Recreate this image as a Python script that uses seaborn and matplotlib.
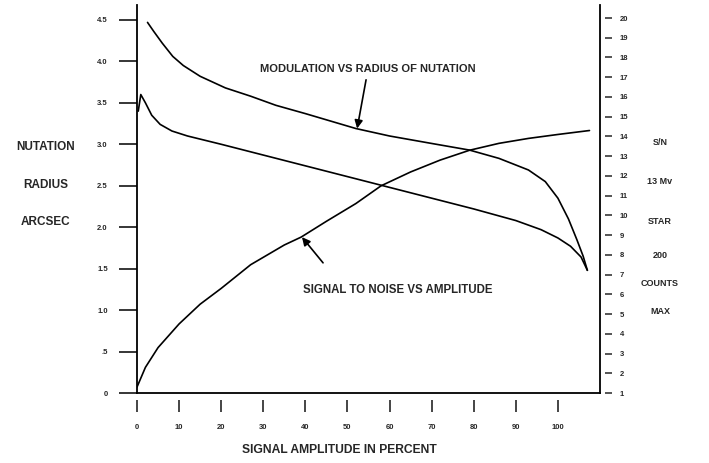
import matplotlib.pyplot as plt
import seaborn as sns

# upper curve (left axis, arcsec)
amp_top = [2.5, 4, 6, 8.5, 11, 15, 21, 27, 33, 40, 46, 52, 60, 70, 79, 86, 93, 97, 100, 102.5, 104.5, 106, 107]
nut_top = [4.47, 4.36, 4.22, 4.06, 3.95, 3.82, 3.68, 3.58, 3.47, 3.37, 3.28, 3.19, 3.1, 3.01, 2.93, 2.83, 2.69, 2.55, 2.35, 2.1, 1.85, 1.65, 1.48]

# lower falling curve (left axis)
amp_mid = [0.3, 0.9, 2, 3.5, 5.5, 8.3, 12, 20, 30, 40, 50, 60, 70, 80, 90, 96, 100, 103, 105.5, 107]
nut_mid = [3.4, 3.6, 3.5, 3.35, 3.24, 3.16, 3.1, 3.0, 2.87, 2.74, 2.61, 2.48, 2.35, 2.22, 2.08, 1.97, 1.87, 1.77, 1.64, 1.48]

# signal to noise (right axis)
amp_sn = [0, 2, 5, 10, 15, 20, 27, 35, 39, 45, 52, 58, 65, 72, 79, 86, 93, 100, 107.5]
sn = [1.3, 2.3, 3.3, 4.5, 5.5, 6.3, 7.5, 8.5, 8.9, 9.7, 10.6, 11.5, 12.2, 12.8, 13.3, 13.65, 13.9, 14.1, 14.3]

left_ticks = [0, 0.5, 1.0, 1.5, 2.0, 2.5, 3.0, 3.5, 4.0, 4.5]
left_labels = ['0', '.5', '1.0', '1.5', '2.0', '2.5', '3.0', '3.5', '4.0', '4.5']
right_ticks = list(range(1, 21))
x_ticks = list(range(0, 101, 10))

sns.set_style('white')
plt.rcParams['font.family'] = ['Liberation Sans', 'DejaVu Sans']

fig = plt.figure(figsize=(7.09, 4.63), dpi=100)
ax = fig.add_axes([137 / 709, 70 / 463, 463 / 709, 388 / 463])

sns.lineplot(x=amp_top, y=nut_top, ax=ax, color='black', lw=1.2, sort=False, estimator=None)
sns.lineplot(x=amp_mid, y=nut_mid, ax=ax, color='black', lw=1.2, sort=False, estimator=None)
ax.set_xlim(0, 110)
ax.set_ylim(0, 4.68)

for s in ['top', 'right']:
    ax.spines[s].set_visible(False)
for s in ['left', 'bottom']:
    ax.spines[s].set_color('black')
    ax.spines[s].set_linewidth(1.3)

ax.set_yticks(left_ticks)
ax.set_yticklabels(left_labels, fontweight='bold')
ax.tick_params(axis='y', direction='out', length=13, width=1.3, pad=8, labelsize=5.5, left=True)
ax.set_xticks([])

# x ticks sit detached below the baseline
sec = ax.secondary_xaxis(-0.018)
sec.spines['bottom'].set_visible(False)
sec.set_xticks(x_ticks)
sec.set_xticklabels([str(t) for t in x_ticks], fontweight='bold')
sec.tick_params(axis='x', direction='out', length=8.5, width=1.2, pad=9, labelsize=5.5, bottom=True)

ax2 = ax.twinx()
sns.lineplot(x=amp_sn, y=sn, ax=ax2, color='black', lw=1.2, sort=False, estimator=None)
ax2.set_ylim(1, 20.66)
for s in ['top', 'left', 'bottom']:
    ax2.spines[s].set_visible(False)
ax2.spines['right'].set_color('black')
ax2.spines['right'].set_linewidth(1.3)
ax2.set_yticks([])
ax2.set_ylabel('')

sec2 = ax2.secondary_yaxis(1.01)
sec2.spines['right'].set_visible(False)
sec2.set_yticks(right_ticks)
sec2.set_yticklabels([str(t) for t in right_ticks], fontweight='bold')
sec2.tick_params(axis='y', direction='out', length=5, width=1.1, pad=6, labelsize=5.5, right=True)

# annotations
ax.annotate('MODULATION VS RADIUS OF NUTATION', xy=(52.3, 3.19), xytext=(54.9, 3.85),
            ha='center', va='bottom', fontsize=8, fontweight='bold',
            arrowprops=dict(arrowstyle='-|>', color='black', lw=1.2, mutation_scale=12, shrinkA=2, shrinkB=0))
ax.annotate('', xy=(39.2, 1.88), xytext=(44.2, 1.57),
            arrowprops=dict(arrowstyle='-|>', color='black', lw=1.2, mutation_scale=12, shrinkA=0, shrinkB=0))
ax.text(62, 1.24, 'SIGNAL TO NOISE VS AMPLITUDE', ha='center', va='center', fontsize=8.3, fontweight='bold')

# axis captions
for txt, y in zip(['NUTATION', 'RADIUS', 'ARCSEC'], [147, 185, 222]):
    fig.text(46 / 709, 1 - y / 463, txt, ha='center', va='center', fontsize=8.5, fontweight='bold')
for txt, y in zip(['S/N', '13 Mv', 'STAR', '200', 'COUNTS', 'MAX'], [143, 182, 222, 256, 284, 312]):
    fig.text(660 / 709, 1 - y / 463, txt, ha='center', va='center', fontsize=6.5, fontweight='bold')
fig.text(339 / 709, 1 - 450 / 463, 'SIGNAL AMPLITUDE IN PERCENT', ha='center', va='center', fontsize=8.7, fontweight='bold')

fig.savefig('out.png', dpi=100)
